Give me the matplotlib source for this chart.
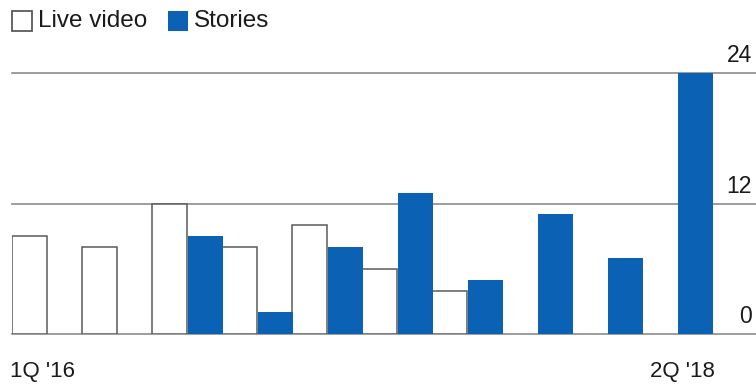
import numpy as np
import matplotlib.pyplot as plt
from matplotlib.patches import Rectangle

plt.rcParams['font.family'] = ['Liberation Sans', 'DejaVu Sans']

# Quartalen 1Q '16 .. 2Q '18
quarters = ["1Q '16", "2Q '16", "3Q '16", "4Q '16", "1Q '17",
            "2Q '17", "3Q '17", "4Q '17", "1Q '18", "2Q '18"]
live_video = [9, 8, 12, 8, 10, 6, 4, 0, 0, 0]
stories = [0, 0, 9, 2, 8, 13, 5, 11, 7, 24]
y_ticks = [0, 12, 24]

blue = "#0b62b5"
edge = "#5a5a5a"
W, H = 756, 386

fig = plt.figure(figsize=(W / 100, H / 100), dpi=100)
# assen-gebied in pixels: links 12, rechts 756, nul op y=334, 24 op y=73
ax = fig.add_axes([12 / W, (H - 334) / H, (W - 12) / W, (334 - 73) / H])

x = np.arange(len(quarters))
for i in x:
    if live_video[i] > 0:
        ax.bar(i + 0.25, live_video[i], width=0.5, color="white",
               edgecolor=edge, linewidth=1.1, zorder=3)
ax.bar(x + 0.765, stories, width=0.5, color=blue, zorder=3)

for v in y_ticks:
    ax.axhline(v, color="#8c8c8c", linewidth=1.2, zorder=1, clip_on=False)
    ax.annotate(str(v), xy=(1, v), xycoords=("axes fraction", "data"),
                xytext=(-3, 4), textcoords="offset points",
                ha="right", va="bottom", fontsize=16.5, color="#1a1a1a")

ax.set_xlim(0, (W - 12) / 70)
ax.set_ylim(0, 24)
ax.axis("off")

# x-labels alleen eerste en laatste kwartaal
fig.text(10 / W, 1 - 372 / H, quarters[0], ha="left", va="center",
         fontsize=16, color="#1a1a1a")
fig.text(715 / W, 1 - 372 / H, quarters[-1], ha="right", va="center",
         fontsize=16, color="#1a1a1a")

# legenda
fig.add_artist(Rectangle((12 / W, 1 - 31 / H), 20 / W, 20 / H,
                         transform=fig.transFigure, facecolor="white",
                         edgecolor=edge, linewidth=1.3))
fig.text(38 / W, 1 - 21 / H, "Live video", ha="left", va="center",
         fontsize=17.5, color="#1a1a1a")
fig.add_artist(Rectangle((168 / W, 1 - 31 / H), 20 / W, 20 / H,
                         transform=fig.transFigure, facecolor=blue,
                         edgecolor="none"))
fig.text(194 / W, 1 - 21 / H, "Stories", ha="left", va="center",
         fontsize=17.5, color="#1a1a1a")

fig.savefig("out.png", dpi=100)
